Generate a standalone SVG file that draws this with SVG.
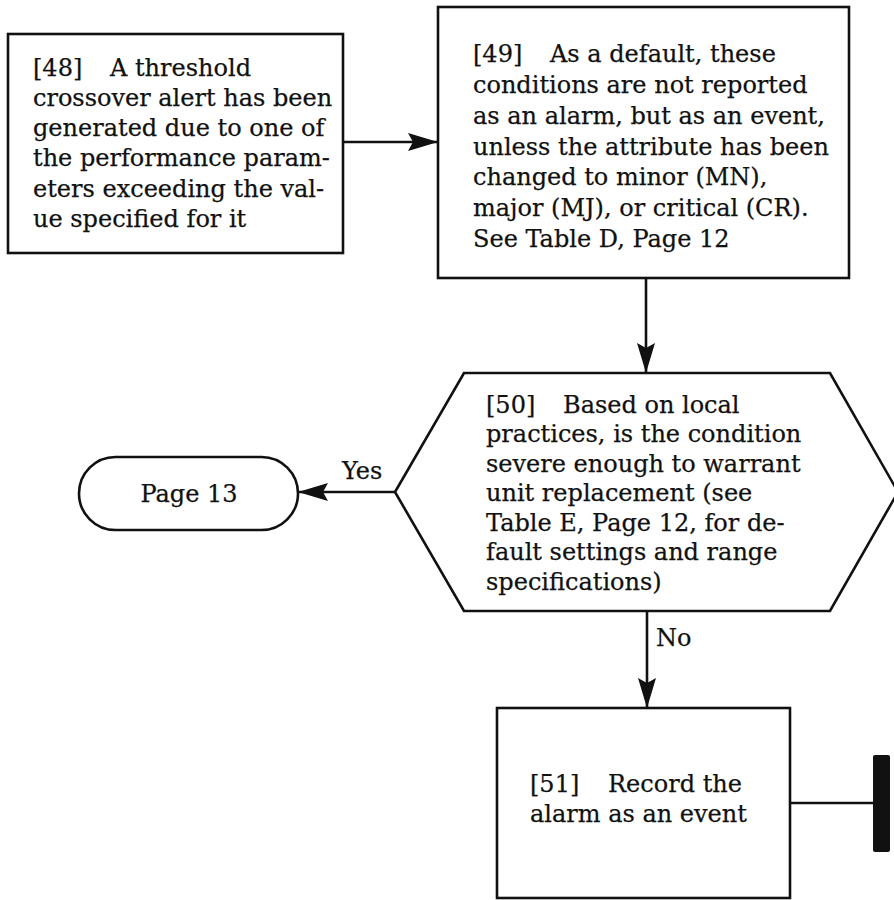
<svg xmlns="http://www.w3.org/2000/svg" width="894" height="900" viewBox="0 0 894 900">
  <style>
    .shape { fill: #ffffff; stroke: #111111; stroke-width: 2.6; stroke-linejoin: miter; }
    .link { fill: none; stroke: #111111; stroke-width: 2.6; }
    .t { font-family: "DejaVu Serif", "Liberation Serif", serif; font-size: 24px; fill: #111111; stroke: #111111; stroke-width: 0.25; }
  </style>
  <defs>
    <marker id="arrow" viewBox="0 0 30 20" refX="29" refY="10" markerWidth="30" markerHeight="20" markerUnits="userSpaceOnUse" orient="auto">
      <path d="M0,1 L30,10 L0,19 L5,10 Z" fill="#111111"/>
    </marker>
  </defs>

  <rect width="894" height="900" fill="#ffffff"/>

  <g id="connectors">
    <line class="link" x1="343" y1="142" x2="437" y2="142" marker-end="url(#arrow)"/>
    <line class="link" x1="646" y1="278" x2="646" y2="372" marker-end="url(#arrow)"/>
    <line class="link" x1="395" y1="492" x2="299" y2="492" marker-end="url(#arrow)"/>
    <line class="link" x1="647" y1="611" x2="647" y2="707" marker-end="url(#arrow)"/>
    <line class="link" x1="790" y1="803" x2="874" y2="803"/>
    <text class="t" x="342" y="479">Yes</text>
    <text class="t" x="656" y="646">No</text>
  </g>

  <g id="n48">
    <rect class="shape" x="8" y="34" width="335" height="219"/>
    <text class="t">
      <tspan x="33" y="76">[48]</tspan><tspan x="110" y="76">A threshold</tspan>
      <tspan x="33" y="106">crossover alert has been</tspan>
      <tspan x="33" y="136">generated due to one of</tspan>
      <tspan x="33" y="166">the performance param-</tspan>
      <tspan x="33" y="197">eters exceeding the val-</tspan>
      <tspan x="33" y="227">ue specified for it</tspan>
    </text>
  </g>

  <g id="n49">
    <rect class="shape" x="438" y="7" width="411" height="271"/>
    <text class="t">
      <tspan x="473" y="62">[49]</tspan><tspan x="550" y="62">As a default, these</tspan>
      <tspan x="473" y="93">conditions are not reported</tspan>
      <tspan x="473" y="124">as an alarm, but as an event,</tspan>
      <tspan x="473" y="155">unless the attribute has been</tspan>
      <tspan x="473" y="185">changed to minor (MN),</tspan>
      <tspan x="473" y="216">major (MJ), or critical (CR).</tspan>
      <tspan x="473" y="247">See Table D, Page 12</tspan>
    </text>
  </g>

  <g id="n50">
    <polygon class="shape" points="464,373 830,373 898,492 830,611 464,611 395,492"/>
    <text class="t">
      <tspan x="486" y="413">[50]</tspan><tspan x="563" y="413">Based on local</tspan>
      <tspan x="486" y="442">practices, is the condition</tspan>
      <tspan x="486" y="472">severe enough to warrant</tspan>
      <tspan x="486" y="501">unit replacement (see</tspan>
      <tspan x="486" y="531">Table E, Page 12, for de-</tspan>
      <tspan x="486" y="560">fault settings and range</tspan>
      <tspan x="486" y="590">specifications)</tspan>
    </text>
  </g>

  <g id="page13">
    <rect class="shape" x="79" y="457" width="219" height="73" rx="36.5" ry="36.5"/>
    <text class="t" x="189" y="502" text-anchor="middle">Page 13</text>
  </g>

  <g id="n51">
    <rect class="shape" x="497" y="708" width="293" height="190"/>
    <text class="t">
      <tspan x="530" y="792">[51]</tspan><tspan x="608" y="792">Record the</tspan>
      <tspan x="530" y="822">alarm as an event</tspan>
    </text>
  </g>

  <g id="offpage">
    <rect x="873" y="755" width="17" height="97" rx="2" fill="#111111"/>
  </g>
</svg>
